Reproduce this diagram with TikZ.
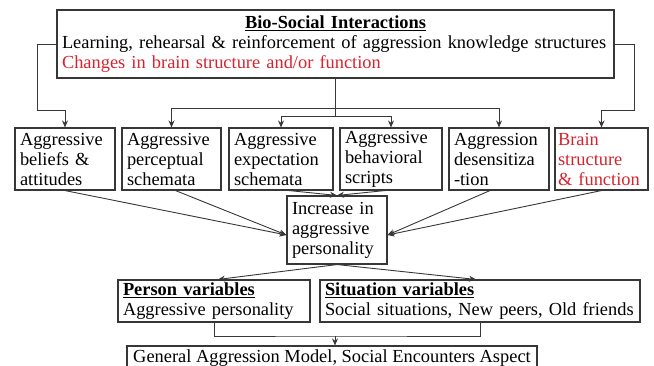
\documentclass[tikz,border=0pt]{standalone}
\usepackage{fontspec}
\setmainfont{Liberation Serif}
\usepackage{xcolor}
\usepackage{tikz}
\usetikzlibrary{arrows.meta}
\definecolor{brainred}{RGB}{215,35,45}
\definecolor{boxline}{RGB}{55,55,55}
\tikzset{
  box/.style = {draw=boxline, line width=1.1pt, rectangle, align=left,
                inner xsep=5pt, inner ysep=2pt, font=\fontsize{18.4}{20}\selectfont},
  link/.style = {draw=boxline, line width=0.9pt},
  arr/.style = {link, -{Stealth[length=7pt,width=6pt]}}
}

\begin{document}
\begin{tikzpicture}[x=1pt,y=-1pt]
\useasboundingbox (0,0) rectangle (654,365);

\node[box, minimum width=557, minimum height=68, text width=547] (top) at (335.5,44)
  {\makebox[547pt][c]{\underline{\textbf{Bio-Social Interactions}}}\\
   Learning, rehearsal \& reinforcement of aggression knowledge structures\\
   \textcolor{brainred}{Changes in brain structure and/or function}};

\begin{scope}[every node/.style={box, minimum height=62}]
    \node[minimum width=100, text width=90] (beliefs) at (65,159) {Aggressive\\beliefs \&\\attitudes};
    \node[minimum width=99, text width=89] (percept) at (171.5,159) {Aggressive\\perceptual\\schemata};
    \node[minimum width=104, text width=94] (expect) at (281,159) {Aggressive\\expectation\\schemata};
    \node[minimum width=102, text width=92] (scripts) at (391,159) {Aggressive\\behavioral\\scripts};
    \node[minimum width=100, text width=90] (desens) at (499,159) {Aggression\\desensitiza\\-tion};
    \node[minimum width=93, text width=87, inner xsep=3pt, text=brainred] (brain) at (601.5,159) {Brain\\structure\\\&~function};
\end{scope}

\node[box, minimum width=100, minimum height=68, text width=90] (incr) at (337,230)
  {Increase in\\aggressive\\personality};

\node[box, minimum width=192, minimum height=42, text width=182] (person) at (214,301)
  {\underline{\textbf{Person variables}}\\Aggressive personality};
\node[box, minimum width=320, minimum height=42, text width=310] (situation) at (480,301)
  {\underline{\textbf{Situation variables}}\\Social situations, New peers, Old friends};

\node[box, minimum width=410, minimum height=24, align=center] (gam) at (332,358)
  {General Aggression Model, Social Encounters Aspect};

% top box down to the six processes
\coordinate (lbend) at (37,110);
\coordinate (rbend) at (634,110);
\coordinate (hubA) at (335.5,108);
\coordinate (hubB) at (335.5,116);
\draw[arr] (top.west) -| (lbend) -| (beliefs.north);
\draw[arr] (top.east) -| (rbend) -| (brain.north);
\draw[link] (top.south) -- (hubB);
\draw[arr] (hubA) -| (percept.north);
\draw[arr] (hubA) -| (desens.north);
\draw[arr] (hubB) -| (expect.north);
\draw[arr] (hubB) -| (scripts.north);

% processes into personality
\draw[arr] (beliefs.south) -- ([yshift=-5pt]incr.west);
\draw[arr] ([xshift=4pt]percept.south) -- ([yshift=-5pt]incr.west);
\draw[arr] ([xshift=8pt]expect.south) -- (incr.north);
\draw[arr] ([xshift=-6pt]scripts.south) -- (incr.north);
\draw[arr] ([xshift=-9pt]desens.south) -- ([yshift=-5pt]incr.east);
\draw[arr] (brain.south) -- ([yshift=-5pt]incr.east);

\draw[arr] (incr.south) -- ([xshift=4pt]person.north);
\draw[arr] (incr.south) -- ([xshift=-4pt]situation.north);

\coordinate (jn) at (335,336);
\draw[link] (person.south) |- (jn) -| (situation.south);
\draw[arr] (jn) -- (jn |- gam.north);

\end{tikzpicture}
\end{document}
